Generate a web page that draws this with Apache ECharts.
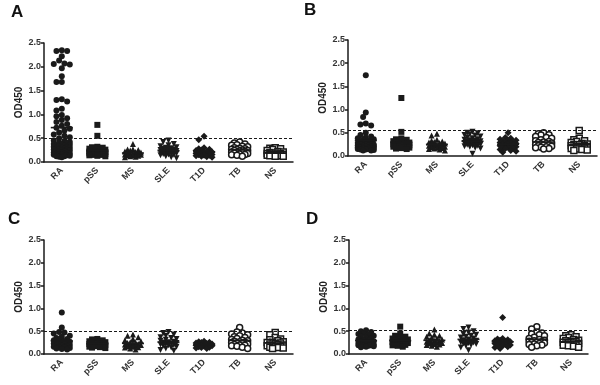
<!DOCTYPE html>
<html>
<head>
<meta charset="utf-8">
<script src="https://cdn.jsdelivr.net/npm/echarts@6/dist/echarts.min.js"></script>
<style>
  html, body { margin: 0; background: #fff; }
  #chart { width: 600px; height: 385px; }
</style>
</head>
<body>
<div id="chart"></div>
<script>
// groups on the x axis of every panel
const categories = ['RA', 'pSS', 'MS', 'SLE', 'T1D', 'TB', 'NS'];
const panelNames = ['A', 'B', 'C', 'D'];
const yTicks = [0, 0.5, 1.0, 1.5, 2.0, 2.5];
// dashed cut-off line per panel
const cutoffs = [0.49, 0.55, 0.50, 0.53];

// OD450 values, one list per group (RA, pSS, MS, SLE, T1D, TB, NS)
const panelA = [
  [2.35, 2.33, 2.33, 2.22, 2.13, 2.07, 2.06, 2.05, 1.97, 1.80, 1.68, 1.68, 1.32, 1.30, 1.27, 1.12,
   1.08, 0.99, 0.96, 0.92, 0.88, 0.84, 0.80, 0.76, 0.72, 0.70, 0.66, 0.62, 0.58, 0.55, 0.52, 0.50,
   0.45, 0.44, 0.42, 0.41, 0.40, 0.38, 0.37, 0.36, 0.35, 0.34, 0.33, 0.32, 0.31, 0.30, 0.30, 0.29,
   0.28, 0.27, 0.26, 0.25, 0.25, 0.24, 0.23, 0.22, 0.21, 0.20, 0.20, 0.19, 0.18, 0.17, 0.17, 0.16,
   0.15, 0.15, 0.14, 0.13, 0.12, 0.12, 0.11, 0.10],
  [0.78, 0.55, 0.32, 0.31, 0.30, 0.29, 0.28, 0.27, 0.26, 0.25, 0.24, 0.24, 0.23, 0.22, 0.22, 0.21,
   0.21, 0.20, 0.20, 0.19, 0.19, 0.18, 0.18, 0.17, 0.17, 0.16, 0.16, 0.15, 0.15, 0.14, 0.13, 0.12],
  [0.38, 0.27, 0.26, 0.25, 0.24, 0.22, 0.21, 0.20, 0.19, 0.18, 0.18, 0.17, 0.16, 0.16, 0.15, 0.14,
   0.14, 0.13, 0.12, 0.11, 0.10],
  [0.45, 0.42, 0.38, 0.35, 0.33, 0.31, 0.30, 0.29, 0.28, 0.27, 0.26, 0.25, 0.24, 0.23, 0.22, 0.22,
   0.21, 0.20, 0.20, 0.19, 0.18, 0.18, 0.17, 0.16, 0.15, 0.14, 0.12, 0.10, 0.08],
  [0.54, 0.47, 0.30, 0.28, 0.27, 0.25, 0.24, 0.22, 0.21, 0.20, 0.19, 0.18, 0.18, 0.17, 0.16, 0.16,
   0.15, 0.14, 0.14, 0.13, 0.12, 0.11, 0.10],
  [0.42, 0.40, 0.38, 0.36, 0.35, 0.33, 0.32, 0.30, 0.29, 0.28, 0.27, 0.26, 0.25, 0.24, 0.24, 0.23,
   0.22, 0.21, 0.20, 0.20, 0.19, 0.18, 0.17, 0.16, 0.15, 0.14, 0.12],
  [0.30, 0.29, 0.28, 0.26, 0.24, 0.22, 0.21, 0.20, 0.19, 0.18, 0.18, 0.17, 0.17, 0.16, 0.16, 0.15,
   0.15, 0.14, 0.14, 0.13, 0.13, 0.12, 0.12]
];
const panelB = [
  [1.74, 0.94, 0.84, 0.70, 0.68, 0.66, 0.50, 0.45, 0.42, 0.40, 0.38, 0.36, 0.35, 0.33, 0.32, 0.30,
   0.29, 0.28, 0.27, 0.26, 0.25, 0.25, 0.24, 0.24, 0.23, 0.22, 0.22, 0.21, 0.21, 0.20, 0.20, 0.19,
   0.19, 0.18, 0.18, 0.17, 0.17, 0.16, 0.16, 0.15, 0.15, 0.14, 0.14, 0.13, 0.12, 0.12],
  [1.25, 0.52, 0.38, 0.36, 0.35, 0.33, 0.32, 0.30, 0.29, 0.28, 0.27, 0.26, 0.25, 0.25, 0.24, 0.23,
   0.22, 0.22, 0.21, 0.20, 0.20, 0.19, 0.18, 0.17, 0.16, 0.15],
  [0.48, 0.44, 0.35, 0.33, 0.31, 0.30, 0.29, 0.28, 0.27, 0.26, 0.25, 0.24, 0.23, 0.22, 0.21, 0.20,
   0.19, 0.18, 0.17, 0.16, 0.15, 0.14, 0.12],
  [0.52, 0.50, 0.49, 0.47, 0.45, 0.44, 0.42, 0.40, 0.38, 0.36, 0.35, 0.34, 0.33, 0.32, 0.31, 0.30,
   0.29, 0.28, 0.27, 0.26, 0.25, 0.24, 0.23, 0.22, 0.21, 0.20, 0.18, 0.16, 0.05],
  [0.50, 0.40, 0.38, 0.36, 0.34, 0.33, 0.32, 0.31, 0.30, 0.29, 0.28, 0.27, 0.26, 0.25, 0.24, 0.23,
   0.22, 0.21, 0.20, 0.19, 0.18, 0.17, 0.16, 0.14, 0.12, 0.10, 0.08],
  [0.50, 0.48, 0.46, 0.45, 0.42, 0.40, 0.38, 0.35, 0.33, 0.31, 0.30, 0.29, 0.28, 0.27, 0.26, 0.25,
   0.24, 0.23, 0.22, 0.21, 0.20, 0.19, 0.18, 0.16, 0.15],
  [0.55, 0.38, 0.35, 0.33, 0.31, 0.29, 0.27, 0.26, 0.25, 0.24, 0.23, 0.22, 0.21, 0.20, 0.20, 0.19,
   0.18, 0.17, 0.16, 0.15, 0.14, 0.13, 0.12]
];
const panelC = [
  [0.91, 0.58, 0.48, 0.47, 0.45, 0.40, 0.38, 0.35, 0.33, 0.31, 0.30, 0.28, 0.27, 0.26, 0.25, 0.24,
   0.23, 0.22, 0.21, 0.20, 0.19, 0.18, 0.17, 0.16, 0.15, 0.14, 0.13, 0.12, 0.11, 0.10],
  [0.33, 0.32, 0.30, 0.29, 0.28, 0.27, 0.26, 0.25, 0.24, 0.23, 0.22, 0.22, 0.21, 0.20, 0.20, 0.19,
   0.18, 0.17, 0.16, 0.15, 0.14, 0.13],
  [0.43, 0.40, 0.37, 0.33, 0.30, 0.28, 0.26, 0.25, 0.24, 0.23, 0.22, 0.21, 0.20, 0.19, 0.18, 0.17,
   0.16, 0.15, 0.14, 0.12, 0.10],
  [0.48, 0.46, 0.43, 0.40, 0.37, 0.35, 0.33, 0.31, 0.29, 0.27, 0.26, 0.25, 0.24, 0.23, 0.22, 0.21,
   0.20, 0.19, 0.18, 0.16, 0.14, 0.12, 0.09, 0.07],
  [0.28, 0.27, 0.26, 0.25, 0.24, 0.23, 0.22, 0.21, 0.20, 0.20, 0.19, 0.19, 0.18, 0.18, 0.17, 0.16,
   0.15, 0.14, 0.13, 0.12],
  [0.58, 0.48, 0.46, 0.44, 0.42, 0.40, 0.38, 0.36, 0.34, 0.32, 0.30, 0.29, 0.28, 0.27, 0.26, 0.25,
   0.24, 0.23, 0.22, 0.21, 0.20, 0.19, 0.18, 0.17, 0.15, 0.12],
  [0.47, 0.42, 0.36, 0.33, 0.31, 0.29, 0.27, 0.26, 0.25, 0.24, 0.23, 0.22, 0.21, 0.20, 0.19, 0.18,
   0.17, 0.16, 0.15, 0.14, 0.13, 0.12]
];
const panelD = [
  [0.52, 0.50, 0.48, 0.46, 0.44, 0.42, 0.40, 0.38, 0.36, 0.34, 0.32, 0.30, 0.29, 0.28, 0.27, 0.26,
   0.25, 0.24, 0.23, 0.22, 0.21, 0.20, 0.20, 0.19, 0.19, 0.18, 0.18, 0.17, 0.16, 0.15],
  [0.60, 0.45, 0.40, 0.38, 0.36, 0.34, 0.32, 0.31, 0.30, 0.29, 0.28, 0.27, 0.26, 0.25, 0.24, 0.23,
   0.22, 0.21, 0.20, 0.19, 0.18, 0.16],
  [0.54, 0.45, 0.42, 0.40, 0.38, 0.36, 0.34, 0.32, 0.30, 0.29, 0.28, 0.27, 0.26, 0.25, 0.24, 0.23,
   0.22, 0.21, 0.20, 0.18, 0.16],
  [0.58, 0.55, 0.50, 0.47, 0.44, 0.42, 0.40, 0.38, 0.36, 0.34, 0.32, 0.30, 0.29, 0.28, 0.27, 0.26,
   0.25, 0.24, 0.23, 0.22, 0.20, 0.18, 0.14, 0.08],
  [0.80, 0.34, 0.33, 0.31, 0.30, 0.29, 0.28, 0.27, 0.26, 0.25, 0.24, 0.23, 0.22, 0.21, 0.20, 0.19,
   0.18, 0.16, 0.14, 0.12],
  [0.60, 0.55, 0.48, 0.46, 0.44, 0.42, 0.40, 0.37, 0.34, 0.32, 0.30, 0.29, 0.28, 0.27, 0.26, 0.25,
   0.24, 0.23, 0.22, 0.21, 0.20, 0.18, 0.15],
  [0.42, 0.40, 0.38, 0.36, 0.34, 0.32, 0.30, 0.29, 0.28, 0.27, 0.26, 0.25, 0.24, 0.23, 0.22, 0.21,
   0.20, 0.19, 0.18, 0.17, 0.15]
];
const panels = [panelA, panelB, panelC, panelD];

const FONT = 'Liberation Sans, Arial, sans-serif';
const INK = '#1a1a1a';

const grids = [
  { left: 44, top: 43, width: 249, height: 119 },
  { left: 348, top: 40, width: 249, height: 116 },
  { left: 44, top: 240, width: 249, height: 114 },
  { left: 349, top: 240, width: 239, height: 114 }
];
const letterPos = [[11, 4], [304, 2], [8, 211], [306, 211]];

// marker per group: filled circle, square, triangle, inverted triangle, diamond, open circle, open square
const markers = [
  { symbol: 'circle', fill: INK, size: 6 },
  { symbol: 'rect', fill: INK, size: 6 },
  { symbol: 'triangle', fill: INK, size: 6 },
  { symbol: 'triangle', fill: INK, size: 6, rotate: 180 },
  { symbol: 'diamond', fill: INK, size: 7 },
  { symbol: 'circle', fill: '#fff', size: 6 },
  { symbol: 'rect', fill: '#fff', size: 6 }
];

// spread points of a column sideways so they overlap less (deterministic swarm)
function swarm(values, pxX, pxY) {
  const sorted = values.slice().sort((a, b) => b - a);
  const placed = [];
  const steps = [0, -1, 1, -2, 2, -3, 3];
  sorted.forEach(v => {
    let best = 0, bestGap = -1;
    for (const s of steps) {
      const ox = s * 0.075;
      let gap = Infinity;
      placed.forEach(p => {
        const d = Math.hypot((p[0] - ox) * pxX, (p[1] - v) * pxY);
        if (d < gap) gap = d;
      });
      if (gap >= 5) { best = ox; break; }
      if (gap > bestGap) { bestGap = gap; best = ox; }
    }
    placed.push([best, v]);
  });
  return placed;
}

const mean = arr => arr.reduce((a, b) => a + b, 0) / arr.length;

const xAxis = [], yAxis = [], series = [], title = [];
const labelStyle = { fontFamily: FONT, fontSize: 9, fontWeight: 'bold', color: '#333' };

panels.forEach((groups, p) => {
  const g = grids[p];
  const pxX = g.width / categories.length;
  const pxY = g.height / (yTicks[yTicks.length - 1] - yTicks[0]);

  title.push({
    text: panelNames[p], left: letterPos[p][0], top: letterPos[p][1], padding: 0,
    textStyle: { fontFamily: FONT, fontSize: 17, fontWeight: 'bold', color: '#111' }
  });

  xAxis.push({
    type: 'category', gridIndex: p, data: categories, boundaryGap: true,
    axisLine: { onZero: false, lineStyle: { color: INK, width: 1.5 } },
    axisTick: { alignWithLabel: true, length: 4, lineStyle: { color: INK, width: 1.5 } },
    axisLabel: Object.assign({ rotate: 45, interval: 0, margin: 7 }, labelStyle)
  });
  xAxis.push({ type: 'value', gridIndex: p, min: -0.5, max: categories.length - 0.5, show: false });

  yAxis.push({
    type: 'value', gridIndex: p,
    min: yTicks[0], max: yTicks[yTicks.length - 1], interval: yTicks[1] - yTicks[0],
    axisLine: { show: true, onZero: false, lineStyle: { color: INK, width: 1.5 } },
    axisTick: { show: true, length: 3, lineStyle: { color: INK, width: 1.5 } },
    splitLine: { show: false },
    axisLabel: Object.assign({ margin: 3, formatter: v => v.toFixed(1) }, labelStyle),
    name: 'OD450', nameLocation: 'middle', nameGap: 17,
    nameTextStyle: { fontFamily: FONT, fontSize: 10, fontWeight: 'bold', color: '#222' }
  });

  groups.forEach((vals, c) => {
    const m = markers[c];
    series.push({
      type: 'scatter', xAxisIndex: p * 2 + 1, yAxisIndex: p,
      symbol: m.symbol, symbolSize: m.size, symbolRotate: m.rotate || 0,
      itemStyle: { color: m.fill, borderColor: INK, borderWidth: m.fill === '#fff' ? 1.5 : 0, opacity: 1 },
      data: swarm(vals, pxX, pxY).map(([ox, v]) => [c + ox, v]),
      silent: true
    });
  });

  // mean bars and the dashed cut-off
  series.push({
    type: 'scatter', xAxisIndex: p * 2 + 1, yAxisIndex: p, z: 5,
    symbol: 'rect', symbolSize: [22, 1.6],
    itemStyle: { color: INK, opacity: 1 },
    data: groups.map((vals, c) => [c, mean(vals)]),
    markLine: {
      silent: true, symbol: 'none', label: { show: false },
      lineStyle: { color: INK, type: [3, 2], width: 1 },
      data: [{ yAxis: cutoffs[p] }]
    }
  });
});

const chart = echarts.init(document.getElementById('chart'));
chart.setOption({
  animation: false,
  backgroundColor: '#fff',
  title: title,
  grid: grids.map(g => Object.assign({ containLabel: false }, g)),
  xAxis: xAxis,
  yAxis: yAxis,
  series: series
});
</script>
</body>
</html>
